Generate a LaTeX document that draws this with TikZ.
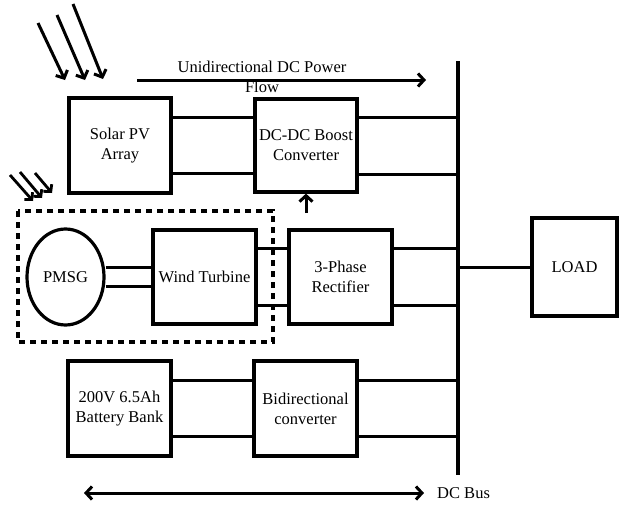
\documentclass[tikz,border=0pt]{standalone}
\usepackage{fontspec}
\setmainfont{Liberation Serif}
\usetikzlibrary{arrows.meta,shapes.geometric}
\tikzset{mytip/.tip={Straight Barb[length=6pt,width=13pt,line width=3pt]},
  smalltip/.tip={Straight Barb[length=5pt,width=11pt,line width=2.8pt]}}
\begin{document}
\begin{tikzpicture}[x=1pt,y=-1pt,
  blk/.style={draw,line width=3.2pt,align=center,font=\fontsize{16.5}{20}\selectfont,inner sep=0pt},
  wire/.style={line width=3pt},
  arr/.style={line width=3pt,-{mytip}},
  lbl/.style={font=\fontsize{16.5}{20}\selectfont,align=center,inner sep=0pt}]
\useasboundingbox (0,0) rectangle (621,506);
% boxes
\node[blk,minimum width=102pt,minimum height=95pt] (pv) at (120,145.5) {Solar PV\\Array};
\node[blk,minimum width=102pt,minimum height=93pt] (boost) at (306,145.5) {DC-DC Boost\\Converter};
\node[blk,ellipse,minimum width=77pt,minimum height=96pt] (pmsg) at (65.5,277) {PMSG};
\node[blk,minimum width=103pt,minimum height=94pt] (wt) at (204.5,277) {Wind Turbine};
\node[blk,minimum width=103pt,minimum height=94pt] (rect) at (340.5,277) {3-Phase\\Rectifier};
\node[blk,minimum width=85pt,minimum height=98pt] (load) at (574.5,267) {LOAD};
\node[blk,minimum width=103pt,minimum height=95pt] (bat) at (119.5,408.5) {200V 6.5Ah\\Battery Bank};
\node[blk,minimum width=103pt,minimum height=95pt] (bdc) at (305.5,408.5) {Bidirectional\\converter};
% DC bus
\coordinate (bt) at (458,61);
\coordinate (bb) at (458,475);
\draw[line width=3.2pt] (bt) -- (bb);
% dashed enclosure
\draw[line width=3.2pt,dash pattern=on 6pt off 5pt] (18,211) rectangle (273,342);
% connections
\draw[wire] (pv.east |- 0,117) -- (boost.west |- 0,117);
\draw[wire] (pv.east |- 0,173) -- (boost.west |- 0,173);
\draw[wire] (boost.east |- 0,117) -- (bt |- 0,117);
\draw[wire] (boost.east |- 0,174) -- (bt |- 0,174);
\draw[wire] (pmsg.east |- 0,267) -- (wt.west |- 0,267);
\draw[wire] (pmsg.east |- 0,286) -- (wt.west |- 0,286);
\draw[wire] (wt.east |- 0,248) -- (rect.west |- 0,248);
\draw[wire] (wt.east |- 0,305) -- (rect.west |- 0,305);
\draw[wire] (rect.east |- 0,248) -- (bt |- 0,248);
\draw[wire] (rect.east |- 0,305) -- (bt |- 0,305);
\draw[wire] (bt |- load.west) -- (load.west);
\draw[wire] (bat.east |- 0,380) -- (bdc.west |- 0,380);
\draw[wire] (bat.east |- 0,436) -- (bdc.west |- 0,436);
\draw[wire] (bdc.east |- 0,380) -- (bt |- 0,380);
\draw[wire] (bdc.east |- 0,436) -- (bt |- 0,436);
% upward arrow
\coordinate (ua) at (306,213);
\draw[arr] (ua) -- (boost.south);
% unidirectional flow arrow
\coordinate (fa) at (137,80);
\coordinate (fb) at (426,80);
\draw[arr] (fa) -- (fb);
\node[lbl] (flow) at (262,77) {Unidirectional DC Power\\Flow};
% bottom bidirectional arrow
\coordinate (da) at (84,493);
\coordinate (db) at (424,493);
\draw[line width=3pt,{mytip}-{mytip}] (da) -- (db);
\node[lbl,anchor=west] (dcbus) at (437,493) {DC Bus};
% sun rays top
\foreach \a/\b/\c/\d [count=\i] in {38/23/65/80, 57/15/85/80, 73/4/103/79}{
  \coordinate (s\i a) at (\a,\b); \coordinate (s\i b) at (\c,\d);
  \draw[arr] (s\i a) -- (s\i b);}
% sun rays lower
\foreach \a/\b/\c/\d [count=\i] in {10/175/33/201, 20/172/42/198, 35/173/52/193}{
  \coordinate (r\i a) at (\a,\b); \coordinate (r\i b) at (\c,\d);
  \draw[line width=2.8pt,-{smalltip}] (r\i a) -- (r\i b);}
\end{tikzpicture}
\end{document}
